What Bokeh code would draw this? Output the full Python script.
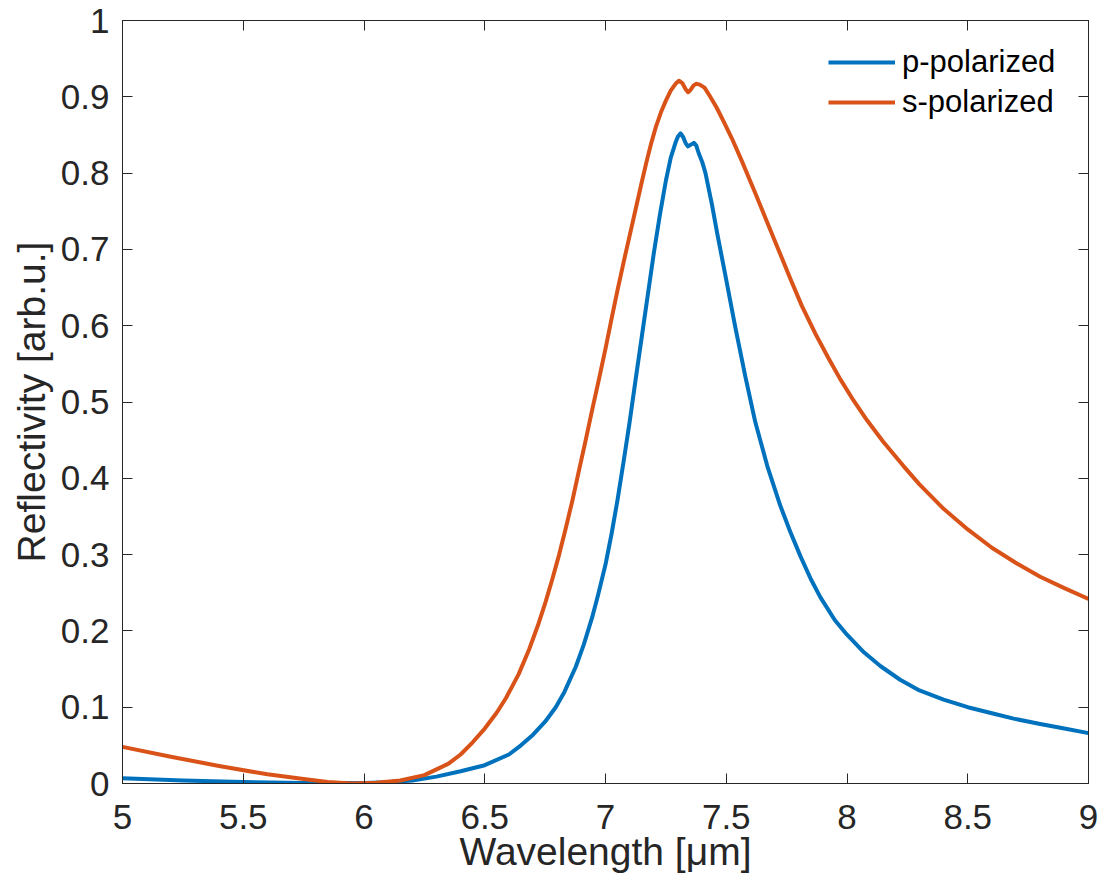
from bokeh.plotting import figure
from bokeh.models import (ColumnDataSource, FixedTicker, LinearAxis, Range1d,
                          CustomJSTickFormatter, Legend, LegendItem)
from bokeh.embed import file_html
from bokeh.resources import INLINE

# ---------------- data ----------------
wl_s = [5.0, 5.2, 5.4, 5.6, 5.75, 5.85, 5.95, 6.05, 6.15, 6.25, 6.35, 6.4, 6.45,
        6.5, 6.55, 6.588, 6.64, 6.684, 6.72, 6.753, 6.78, 6.808, 6.835, 6.863,
        6.89, 6.918, 6.945, 6.973, 7.0, 7.025, 7.05, 7.077, 7.1, 7.125, 7.15,
        7.17, 7.19, 7.21, 7.23, 7.25, 7.27, 7.29, 7.304, 7.318, 7.332, 7.342,
        7.352, 7.365, 7.375, 7.39, 7.41, 7.43, 7.46, 7.49, 7.524, 7.563, 7.6,
        7.62, 7.669, 7.717, 7.765, 7.813, 7.87, 7.924, 7.972, 8.027, 8.083,
        8.15, 8.234, 8.3, 8.4, 8.5, 8.6, 8.7, 8.8, 8.9, 9.0]
refl_s = [0.048, 0.035, 0.023, 0.012, 0.006, 0.002, 0.0, 0.001, 0.004, 0.011,
          0.026, 0.038, 0.054, 0.072, 0.093, 0.112, 0.143, 0.176, 0.207, 0.239,
          0.268, 0.3, 0.334, 0.371, 0.41, 0.45, 0.49, 0.53, 0.57, 0.609, 0.647,
          0.686, 0.718, 0.753, 0.788, 0.815, 0.84, 0.862, 0.88, 0.895, 0.908,
          0.917, 0.921, 0.918, 0.91, 0.906, 0.909, 0.915, 0.917, 0.916, 0.912,
          0.902, 0.886, 0.867, 0.845, 0.817, 0.789, 0.774, 0.736, 0.699, 0.662,
          0.626, 0.589, 0.557, 0.53, 0.502, 0.476, 0.448, 0.416, 0.392, 0.36,
          0.333, 0.309, 0.289, 0.271, 0.256, 0.242]

wl_p = [5.0, 5.25, 5.5, 5.75, 6.0, 6.1, 6.2, 6.3, 6.4, 6.5, 6.6, 6.65, 6.7,
        6.75, 6.794, 6.83, 6.877, 6.91, 6.945, 6.97, 7.0, 7.025, 7.05, 7.075,
        7.1, 7.125, 7.15, 7.175, 7.2, 7.225, 7.25, 7.27, 7.29, 7.3, 7.311,
        7.322, 7.332, 7.342, 7.352, 7.366, 7.376, 7.386, 7.4, 7.414, 7.44,
        7.462, 7.5, 7.538, 7.58, 7.62, 7.67, 7.724, 7.765, 7.807, 7.85, 7.89,
        7.95, 8.0, 8.07, 8.138, 8.22, 8.3, 8.4, 8.5, 8.6, 8.69, 8.8, 8.9, 9.0]
refl_p = [0.007, 0.004, 0.002, 0.0008, 0.0008, 0.0015, 0.004, 0.009, 0.016,
          0.024, 0.038, 0.05, 0.064, 0.081, 0.1, 0.12, 0.153, 0.182, 0.218,
          0.248, 0.287, 0.327, 0.372, 0.422, 0.474, 0.53, 0.585, 0.64, 0.695,
          0.745, 0.79, 0.82, 0.84, 0.848, 0.852, 0.847, 0.839, 0.835, 0.837,
          0.8396, 0.836, 0.826, 0.815, 0.8, 0.76, 0.722, 0.66, 0.597, 0.532,
          0.474, 0.416, 0.364, 0.33, 0.298, 0.268, 0.244, 0.214, 0.195, 0.172,
          0.154, 0.136, 0.122, 0.11, 0.1, 0.092, 0.085, 0.078, 0.072, 0.066]

series_names = ["p-polarized", "s-polarized"]
x_ticks = [5, 5.5, 6, 6.5, 7, 7.5, 8, 8.5, 9]
x_tick_labels = ["5", "5.5", "6", "6.5", "7", "7.5", "8", "8.5", "9"]
y_ticks = [0, 0.1, 0.2, 0.3, 0.4, 0.5, 0.6, 0.7, 0.8, 0.9, 1]
y_tick_labels = ["0", "0.1", "0.2", "0.3", "0.4", "0.5", "0.6", "0.7", "0.8", "0.9", "1"]
x_label = "Wavelength [μm]"
y_label = "Reflectivity [arb.u.]"

# ---------------- style ----------------
FONT = "Liberation Sans"
TXT = "#262626"
BLUE = "#0072BD"
ORANGE = "#D95319"

p = figure(frame_width=966, frame_height=763,
           x_range=Range1d(5, 9), y_range=Range1d(0, 1),
           output_backend="svg", toolbar_location=None,
           min_border_left=122, min_border_right=14,
           min_border_top=20, min_border_bottom=105,
           background_fill_color="white", border_fill_color="white")
p.grid.visible = False
p.outline_line_color = TXT
p.outline_line_width = 1

src_p = ColumnDataSource(dict(x=wl_p, y=refl_p))
src_s = ColumnDataSource(dict(x=wl_s, y=refl_s))
r_p = p.line("x", "y", source=src_p, line_color=BLUE, line_width=4,
             line_join="round")
r_s = p.line("x", "y", source=src_s, line_color=ORANGE, line_width=4,
             line_join="round")


def style_axis(ax, ticks, labels, show_labels=True):
    ax.ticker = FixedTicker(ticks=ticks)
    if show_labels:
        ax.major_label_overrides = dict(zip(ticks, labels))
    else:
        ax.formatter = CustomJSTickFormatter(code="return ''")
    ax.major_tick_in = 10
    ax.major_tick_out = 0
    ax.minor_tick_in = 0
    ax.minor_tick_out = 0
    ax.axis_line_color = TXT
    ax.major_tick_line_color = TXT
    ax.major_label_text_font = FONT
    ax.major_label_text_font_size = "35px"
    ax.major_label_text_color = TXT
    ax.axis_label_text_font = FONT
    ax.axis_label_text_font_size = "39px"
    ax.axis_label_text_font_style = "normal"
    ax.axis_label_text_color = TXT


style_axis(p.xaxis[0], x_ticks, x_tick_labels)
style_axis(p.yaxis[0], y_ticks, y_tick_labels)
p.xaxis[0].axis_label = x_label
p.yaxis[0].axis_label = y_label
p.xaxis[0].major_label_standoff = 21
p.yaxis[0].major_label_standoff = 13
p.xaxis[0].axis_label_standoff = -2
p.yaxis[0].axis_label_standoff = 5

top_ax = LinearAxis()
right_ax = LinearAxis()
style_axis(top_ax, x_ticks, x_tick_labels, show_labels=False)
style_axis(right_ax, y_ticks, y_tick_labels, show_labels=False)
top_ax.major_label_standoff = 0
right_ax.major_label_standoff = 0
p.add_layout(top_ax, "above")
p.add_layout(right_ax, "right")

legend = Legend(items=[LegendItem(label=series_names[0], renderers=[r_p]),
                       LegendItem(label=series_names[1], renderers=[r_s])],
                location=(706, 661))
legend.label_text_font = FONT
legend.label_text_font_size = "31px"
legend.label_text_color = "black"
legend.glyph_width = 67
legend.glyph_height = 40
legend.label_height = 40
legend.label_standoff = 7
legend.spacing = 0
legend.padding = 0
legend.margin = 0
legend.border_line_color = None
legend.background_fill_alpha = 0
p.add_layout(legend, "center")

open("out.html", "w").write(file_html(p, INLINE))
